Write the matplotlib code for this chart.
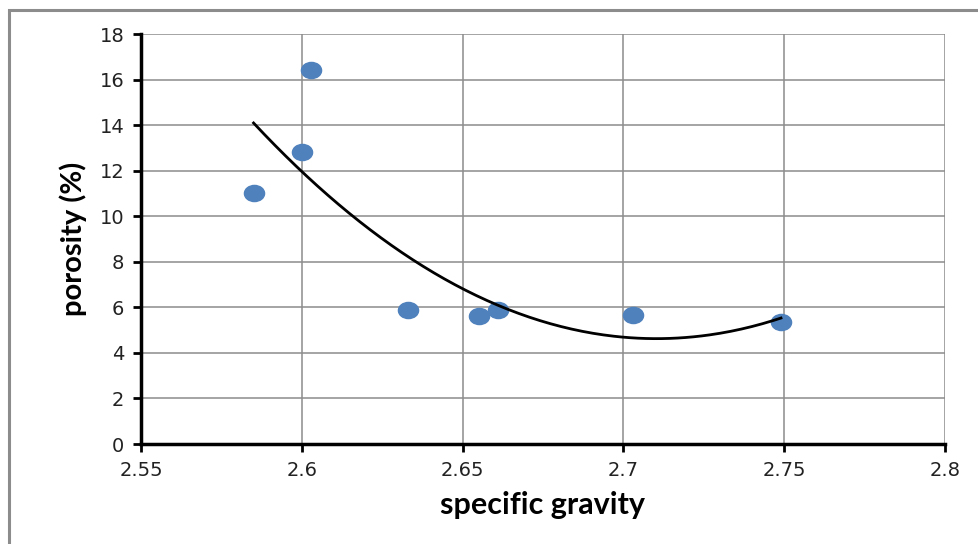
import matplotlib.pyplot as plt
import matplotlib.path as mpath
import numpy as np
from matplotlib.patches import Rectangle

# values
specific_gravity = [2.585, 2.600, 2.603, 2.633, 2.655, 2.661, 2.703, 2.749]
porosity = [11.0, 12.8, 16.4, 5.9, 5.6, 5.9, 5.65, 5.35]
x_ticks = [2.55, 2.6, 2.65, 2.7, 2.75, 2.8]
x_tick_labels = ['2.55', '2.6', '2.65', '2.7', '2.75', '2.8']
y_ticks = [0, 2, 4, 6, 8, 10, 12, 14, 16, 18]

plt.rcParams['font.family'] = ['Lato', 'DejaVu Sans']

fig = plt.figure(figsize=(9.79, 5.44), dpi=100)
ax = fig.add_axes([141 / 979, 100 / 544, 804 / 979, 410 / 544])

# grey frame of the pasted chart
fig.patches.append(Rectangle((9 / 979, -0.2), 1.2, 1.2 - 10 / 544,
                             transform=fig.transFigure, fill=False,
                             edgecolor='#8c8c8c', linewidth=2.2, zorder=0))

# slightly wider than tall, like the stretched Excel markers
circle = mpath.Path.unit_circle()
ellipse = mpath.Path(circle.vertices * np.array([1.25, 1.0]), circle.codes)
ax.plot(specific_gravity, porosity, linestyle='none', marker=ellipse,
        markersize=14.5, color='#4f81bd', zorder=3)

# order 2 polynomial trendline
coef = np.polyfit(specific_gravity, porosity, 2)
xs = np.linspace(min(specific_gravity), max(specific_gravity), 200)
ax.plot(xs, np.polyval(coef, xs), color='black', linewidth=2, zorder=4)

ax.set_xlim(2.55, 2.8)
ax.set_ylim(0, 18)
ax.set_xticks(x_ticks)
ax.set_xticklabels(x_tick_labels)
ax.set_yticks(y_ticks)
ax.grid(True, color='#8c8c8c', linewidth=1.1)
ax.set_axisbelow(True)

for side in ['top', 'right']:
    ax.spines[side].set_visible(False)
for side in ['left', 'bottom']:
    ax.spines[side].set_linewidth(2.5)
    ax.spines[side].set_color('black')
ax.tick_params(direction='out', length=6, width=2, labelsize=14, pad=6,
               labelcolor='#222222')
for lbl in ax.get_xticklabels() + ax.get_yticklabels():
    lbl.set_family('DejaVu Sans')

ax.set_xlabel('specific gravity', fontsize=22, fontweight='bold', labelpad=8)
ax.set_ylabel('porosity (%)', fontsize=21, fontweight='bold', labelpad=9)

fig.savefig('out.png', dpi=100)
